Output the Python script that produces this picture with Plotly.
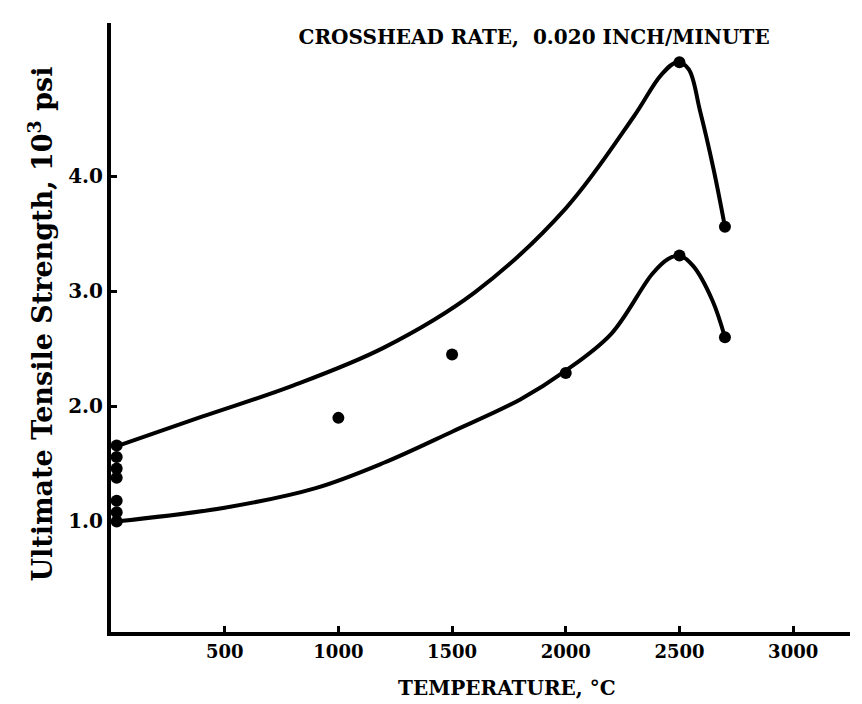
"""Ultimate tensile strength vs temperature, crosshead rate 0.020 in/min."""

import plotly.graph_objects as go

# ---------------------------------------------------------------------------
# Data
# ---------------------------------------------------------------------------
upper_curve_t = [20, 400, 800, 1200, 1600, 2000, 2300, 2420, 2490, 2540, 2590, 2650, 2700]
upper_curve_s = [1.65, 1.91, 2.18, 2.51, 2.99, 3.72, 4.52, 4.88, 4.99, 4.93, 4.57, 4.06, 3.56]

lower_curve_t = [20, 500, 900, 1200, 1500, 1800, 2000, 2200, 2380, 2450, 2500, 2560, 2645, 2700]
lower_curve_s = [1.00, 1.12, 1.29, 1.51, 1.78, 2.06, 2.31, 2.63, 3.15, 3.28, 3.31, 3.22, 2.92, 2.60]

points_t = [25, 25, 25, 25, 25, 25, 25, 1000, 1500, 2000, 2500, 2500, 2700, 2700]
points_s = [1.66, 1.56, 1.46, 1.38, 1.18, 1.08, 1.00, 1.90, 2.45, 2.29, 4.99, 3.31, 3.56, 2.60]

x_ticks = [500, 1000, 1500, 2000, 2500, 3000]
y_ticks = [1.0, 2.0, 3.0, 4.0]

FONT = "DejaVu Serif"

# the page body has an 8px margin, so the figure is drawn 8px smaller
fig = go.Figure()
for t, s in [(upper_curve_t, upper_curve_s), (lower_curve_t, lower_curve_s)]:
    fig.add_trace(go.Scatter(
        x=t, y=s, mode="lines",
        line=dict(color="black", width=4, shape="spline", smoothing=1.0),
        showlegend=False, hoverinfo="skip",
    ))
fig.add_trace(go.Scatter(
    x=points_t, y=points_s, mode="markers",
    marker=dict(color="black", size=12),
    showlegend=False,
))

fig.add_annotation(
    text="<b>TEMPERATURE, °C</b>",
    xref="paper", yref="paper", x=0.536, y=-0.092,
    xanchor="center", yanchor="middle", showarrow=False,
    font=dict(size=20, family=FONT, color="black"),
)
fig.add_annotation(
    text="<b>Ultimate Tensile Strength, 10<sup>3</sup> psi</b>",
    xref="paper", yref="paper", x=-0.096, y=0.505, textangle=-90,
    xanchor="center", yanchor="middle", showarrow=False,
    font=dict(size=27, family=FONT, color="black"),
)

fig.update_layout(
    width=854, height=696,
    margin=dict(l=103, r=12, t=15, b=72),
    paper_bgcolor="white", plot_bgcolor="white",
    font=dict(family=FONT, color="black"),
    title=dict(
        text="<b>CROSSHEAD RATE,  0.020 INCH/MINUTE</b>",
        font=dict(family=FONT, size=20, color="black"),
        x=0.616, xanchor="center", y=0.958, yanchor="middle",
        automargin=False,
    ),
    xaxis=dict(
        range=[0, 3250], tickvals=x_ticks,
        ticktext=[f"<b>{v}</b>" for v in x_ticks],
        ticks="inside", ticklen=6, tickwidth=3, tickcolor="black",
        showline=True, linewidth=4, linecolor="black",
        showgrid=False, zeroline=False, automargin=False,
        tickfont=dict(size=18, family=FONT),
    ),
    yaxis=dict(
        range=[0.04, 5.33], tickvals=y_ticks,
        ticktext=[f"<b>{v:.1f}</b>" for v in y_ticks],
        ticks="inside", ticklen=6, tickwidth=3, tickcolor="black",
        showline=True, linewidth=4, linecolor="black",
        showgrid=False, zeroline=False, automargin=False,
        tickfont=dict(size=20, family=FONT),
    ),
)

fig.write_html("out.html")
